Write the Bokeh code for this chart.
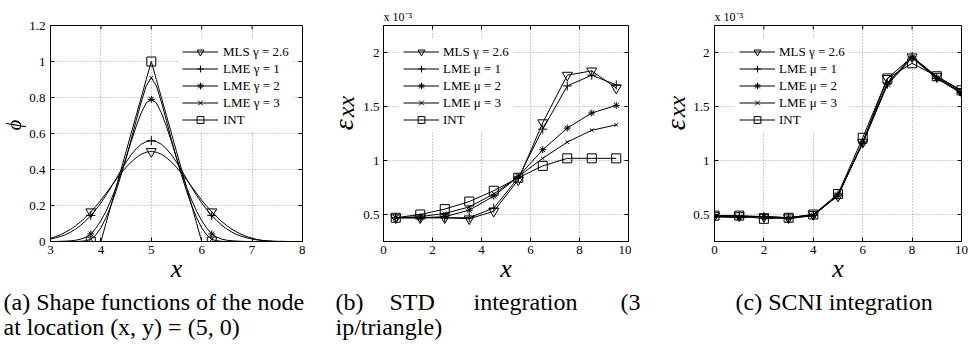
import math
from bokeh.plotting import figure
from bokeh.layouts import row, column
from bokeh.models import (Range1d, FixedTicker, NumeralTickFormatter, Legend, LegendItem, Label)
from bokeh.embed import file_html
from bokeh.resources import INLINE

# ---------------- data ----------------
# (a) shape functions of node at x=5, sampled along x
xa = [3.0, 3.1, 3.2, 3.3, 3.4, 3.5, 3.6, 3.7, 3.8, 3.9, 4.0, 4.1, 4.2, 4.3, 4.4, 4.5, 4.6, 4.7, 4.8, 4.9,
      5.0, 5.1, 5.2, 5.3, 5.4, 5.5, 5.6, 5.7, 5.8, 5.9, 6.0, 6.1, 6.2, 6.3, 6.4, 6.5, 6.6, 6.7, 6.8, 6.9,
      7.0, 7.1, 7.2, 7.3, 7.4, 7.5, 7.6, 7.7, 7.8, 7.9, 8.0]
mls_a = [.018, .027, .038, .052, .068, .088, .110, .136, .165, .196, .230, .267, .305, .343, .379, .412, .441, .466, .485, .496,
         .500, .496, .485, .466, .441, .412, .379, .343, .305, .267, .230, .196, .165, .136, .110, .088, .068, .052, .038, .027,
         .018, .011, .006, .003, .001, 0, 0, 0, 0, 0, 0]
lme1_a = [.014, .020, .028, .038, .052, .069, .090, .116, .145, .177, .214, .256, .301, .348, .396, .441, .482, .515, .540, .555,
          .560, .555, .540, .515, .482, .441, .396, .348, .301, .256, .214, .177, .145, .116, .090, .069, .052, .038, .028, .020,
          .014, .009, .006, .004, .002, .001, .001, 0, 0, 0, 0]
lme2_a = [0, 0, .001, .002, .004, .007, .013, .024, .042, .074, .116, .167, .230, .300, .380, .466, .555, .640, .715, .770,
          .790, .770, .715, .640, .555, .466, .380, .300, .230, .167, .116, .074, .042, .024, .013, .007, .004, .002, .001, 0,
          0, 0, 0, 0, 0, 0, 0, 0, 0, 0, 0]
lme3_a = [0, 0, 0, 0, 0, 0, .001, .004, .012, .036, .076, .132, .200, .280, .368, .462, .565, .672, .775, .865,
          .910, .865, .775, .672, .565, .462, .368, .280, .200, .132, .076, .036, .012, .004, .001, 0, 0, 0, 0, 0,
          0, 0, 0, 0, 0, 0, 0, 0, 0, 0, 0]
int_a = [0, 0, 0, 0, 0, 0, 0, 0, 0, 0, 0, .1, .2, .3, .4, .5, .6, .7, .8, .9,
         1.0, .9, .8, .7, .6, .5, .4, .3, .2, .1, 0, 0, 0, 0, 0, 0, 0, 0, 0, 0,
         0, 0, 0, 0, 0, 0, 0, 0, 0, 0, 0]
xa_nodes = [3.8, 5.0, 6.2]
mls_a_nodes = [0.165, 0.50, 0.165]
lme1_a_nodes = [0.145, 0.56, 0.145]
lme2_a_nodes = [0.042, 0.79, 0.042]
lme3_a_nodes = [0.012, 0.91, 0.012]
int_a_nodes = [0.0, 1.0, 0.0]

# (b) STD integration, eps_xx in units of 1e-3
xb = [0.5, 1.5, 2.5, 3.5, 4.5, 5.5, 6.5, 7.5, 8.5, 9.5]
mls_b = [0.47, 0.47, 0.47, 0.46, 0.53, 0.82, 1.35, 1.79, 1.83, 1.67]
lme1_b = [0.47, 0.47, 0.47, 0.47, 0.56, 0.84, 1.29, 1.69, 1.79, 1.70]
lme2_b = [0.47, 0.47, 0.48, 0.54, 0.67, 0.85, 1.10, 1.30, 1.44, 1.51]
lme3_b = [0.47, 0.48, 0.51, 0.57, 0.69, 0.85, 1.02, 1.17, 1.28, 1.33]
int_b = [0.47, 0.50, 0.55, 0.62, 0.72, 0.84, 0.95, 1.02, 1.02, 1.02]

# (c) SCNI integration, eps_xx in units of 1e-3
xc = [0, 1, 2, 3, 4, 5, 6, 7, 8, 9, 10]
mls_c = [0.49, 0.49, 0.48, 0.47, 0.50, 0.67, 1.17, 1.76, 1.96, 1.78, 1.64]
lme1_c = [0.48, 0.48, 0.48, 0.47, 0.49, 0.68, 1.16, 1.71, 1.96, 1.76, 1.63]
lme2_c = [0.48, 0.47, 0.48, 0.46, 0.49, 0.68, 1.16, 1.70, 1.95, 1.76, 1.62]
lme3_c = [0.48, 0.48, 0.48, 0.47, 0.49, 0.68, 1.17, 1.72, 1.96, 1.77, 1.63]
int_c = [0.49, 0.49, 0.46, 0.47, 0.50, 0.69, 1.21, 1.76, 1.90, 1.78, 1.65]

labels_a = ["MLS γ = 2.6", "LME γ = 1", "LME γ = 2", "LME γ = 3", "INT"]
labels_bc = ["MLS γ = 2.6", "LME μ = 1", "LME μ = 2", "LME μ = 3", "INT"]
xticks_a = [3, 4, 5, 6, 7, 8]
yticks_a = [0, 0.2, 0.4, 0.6, 0.8, 1.0, 1.2]
xticks_bc = [0, 2, 4, 6, 8, 10]
yticks_bc = [0.5, 1.0, 1.5, 2.0]

captions = ["(a) Shape functions of the node", "at location (x, y) = (5, 0)",
            "(b)", "STD", "integration", "(3", "ip/triangle)", "(c) SCNI integration"]

# ---------------- styling ----------------
SERIF = "Liberation Serif"
markers = ["inverted_triangle", "cross", "asterisk", "x", "square"]
msizes = [10, 9, 7, 5, 9]
TOP_H = 285
TICK = 4


def make_fig(width, left, right, top, frame_w, frame_h, xr, yr, xt, yt, title=None):
    p = figure(width=width, height=TOP_H, output_backend="svg", toolbar_location=None,
               x_range=Range1d(*xr), y_range=Range1d(*yr), title=title,
               min_border_left=left, min_border_right=right, min_border_top=top,
               min_border_bottom=TOP_H - top - frame_h)
    p.background_fill_color = "white"
    p.border_fill_color = "white"
    p.outline_line_color = "black"
    p.outline_line_width = 1
    p.xaxis.ticker = FixedTicker(ticks=xt)
    p.yaxis.ticker = FixedTicker(ticks=yt)
    p.xaxis.formatter = NumeralTickFormatter(format="0.[0]")
    p.yaxis.formatter = NumeralTickFormatter(format="0.[0]")
    for ax in (p.xaxis, p.yaxis):
        ax.major_tick_in = TICK
        ax.major_tick_out = 0
        ax.minor_tick_in = 0
        ax.minor_tick_out = 0
        ax.axis_line_color = "black"
        ax.major_tick_line_color = "black"
        ax.major_label_text_font = SERIF
        ax.major_label_text_font_size = "13px"
        ax.major_label_text_color = "black"
    p.xaxis.major_label_standoff = 4
    p.xaxis.axis_label = "x"
    p.xaxis.axis_label_text_font = SERIF
    p.xaxis.axis_label_text_font_size = "26px"
    p.xaxis.axis_label_text_font_style = "italic"
    p.xaxis.axis_label_text_color = "black"
    p.xaxis.axis_label_standoff = -3
    # inward ticks on the top and right edges of the box
    dy = TICK * (yr[1] - yr[0]) / frame_h
    dx = TICK * (xr[1] - xr[0]) / frame_w
    p.segment(x0=xt, y0=[yr[1]] * len(xt), x1=xt, y1=[yr[1] - dy] * len(xt), line_color="black", line_width=1)
    p.segment(x0=[xr[1]] * len(yt), y0=yt, x1=[xr[1] - dx] * len(yt), y1=yt, line_color="black", line_width=1)
    p.grid.grid_line_color = "#9a9a9a"
    p.grid.grid_line_dash = "1 2"
    p.grid.grid_line_width = 1
    if title is not None:
        p.title.align = "left"
        p.title.text_font = SERIF
        p.title.text_font_size = "12px"
        p.title.text_font_style = "normal"
        p.title.text_color = "black"
        p.title.standoff = 4
        p.title.offset = 0
    return p


def text_fig(x0, x1, y0, y1):
    # a figure whose frame is the whole canvas; data coords == page pixels
    p = figure(width=x1 - x0, height=y1 - y0, output_backend="svg", toolbar_location=None,
               title=None, x_range=Range1d(x0, x1), y_range=Range1d(y1, y0),
               x_axis_type=None, y_axis_type=None, min_border=0)
    p.outline_line_color = None
    p.background_fill_color = "white"
    p.border_fill_color = "white"
    return p


def add_text(p, x, y, text, size, **kw):
    p.add_layout(Label(x=x, y=y, text=text, text_font=SERIF, text_font_size=size,
                       text_color="black", **kw))


def add_series(p, xs_line, ys_line, xs_m, ys_m, k, color="black"):
    lr = p.line(xs_line, ys_line, line_color=color, line_width=1)
    sr = p.scatter(xs_m, ys_m, marker=markers[k], size=msizes[k], line_color=color,
                   fill_color=None, line_width=1)
    return [lr, sr]


def add_legend(p, items, labels, vx, vy, standoff):
    leg = Legend(items=[LegendItem(label=l, renderers=r) for l, r in zip(labels, items)],
                 location=(vx, vy), orientation="vertical", margin=0, padding=4, spacing=0,
                 glyph_width=36, glyph_height=17, label_height=17, label_standoff=standoff,
                 label_text_font=SERIF, label_text_font_size="13px", label_text_color="black",
                 border_line_alpha=0, background_fill_color="white", background_fill_alpha=1)
    p.add_layout(leg)


# ---------------- panel (a) ----------------  page x 26..305, frame 50..302
pa = make_fig(279, 24, 3, 21, 252, 221, (3, 8), (0, 1.2), xticks_a, yticks_a)
pa.yaxis.major_label_standoff = 5
ys_a = [mls_a, lme1_a, lme2_a, lme3_a, int_a]
ns_a = [mls_a_nodes, lme1_a_nodes, lme2_a_nodes, lme3_a_nodes, int_a_nodes]
items_a = [add_series(pa, xa, ys_a[k], xa_nodes, ns_a[k], k) for k in range(5)]
add_legend(pa, items_a, labels_a, 128, 109, 5)

# ---------------- panel (b) ----------------  page x 360..631, frame 381..628
pb = make_fig(271, 21, 3, 25, 247, 217, (0, 10), (0.25, 2.25), xticks_bc, yticks_bc, title="x 10⁻³")
pb.yaxis.major_label_standoff = 4
ys_b = [mls_b, lme1_b, lme2_b, lme3_b, int_b]
items_b = [add_series(pb, xb, ys_b[k], xb, ys_b[k], k) for k in range(5)]
add_legend(pb, items_b, labels_bc, 16, 109, 4)

# ---------------- panel (c) ----------------  page x 690..970, frame 712..961
pc = make_fig(280, 22, 9, 25, 249, 217, (0, 10), (0.25, 2.25), xticks_bc, yticks_bc, title="x 10⁻³")
pc.yaxis.major_label_standoff = 5
ys_c = [mls_c, lme1_c, lme2_c, lme3_c, int_c]
items_c = [add_series(pc, xc, ys_c[k], xc, ys_c[k], k) for k in range(5)]
add_legend(pc, items_c, labels_bc, 21, 109, 4)

# ---------------- y-axis label strips ----------------
ya = text_fig(0, 26, 0, TOP_H)
add_text(ya, 13, 131.5, "ϕ", "20px", text_font_style="italic",
         text_align="center", text_baseline="middle", angle=math.pi / 2)
yb = text_fig(305, 360, 0, TOP_H)
add_text(yb, 342.5, 131, "ε", "28px", text_font_style="italic",
         text_align="center", text_baseline="middle", angle=math.pi / 2)
add_text(yb, 345, 107, "xx", "24px", text_font_style="italic",
         text_align="center", text_baseline="middle", angle=math.pi / 2)
yc = text_fig(631, 690, 0, TOP_H)
add_text(yc, 674.5, 131, "ε", "28px", text_font_style="italic",
         text_align="center", text_baseline="middle", angle=math.pi / 2)
add_text(yc, 676.5, 107, "xx", "24px", text_font_style="italic",
         text_align="center", text_baseline="middle", angle=math.pi / 2)

# ---------------- captions ----------------
cap = text_fig(0, 970, TOP_H, 344)
cap_pos = [(3, 301.7), (3, 326.2), (335, 301.7), (389, 301.7), (473, 301.7), (620, 301.7),
           (335, 326.2), (735, 301.7)]
for (cx, cy), t in zip(cap_pos, captions):
    add_text(cap, cx, cy, t, "24px", text_baseline="alphabetic")

layout = column(row(ya, pa, yb, pb, yc, pc), cap)
open("out.html", "w").write(file_html(layout, INLINE))
